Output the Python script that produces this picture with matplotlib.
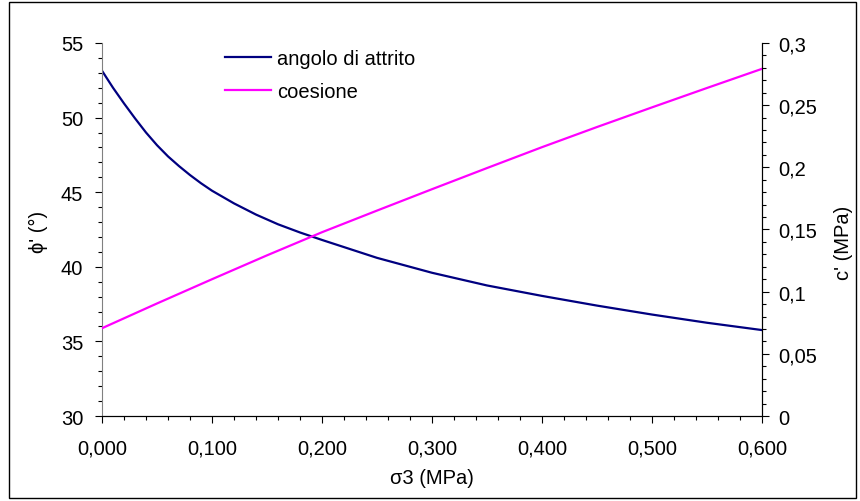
import matplotlib
matplotlib.use("Agg")
import matplotlib.pyplot as plt
from matplotlib.patches import Rectangle
from matplotlib.ticker import MultipleLocator, FuncFormatter

plt.rcParams['font.family'] = ['Liberation Sans', 'DejaVu Sans']

# friction angle curve
sigma3 = [0.0, 0.01, 0.02, 0.03, 0.04, 0.05, 0.06, 0.07, 0.08, 0.09, 0.1,
          0.12, 0.14, 0.16, 0.18, 0.2, 0.25, 0.3, 0.35, 0.4, 0.45, 0.5, 0.55, 0.6]
phi = [53.14, 52.0, 50.95, 49.95, 49.0, 48.15, 47.4, 46.75, 46.15, 45.6, 45.1,
       44.25, 43.5, 42.85, 42.3, 41.8, 40.6, 39.6, 38.75, 38.05, 37.4, 36.8, 36.25, 35.76]

# cohesion curve
sigma3_c = [0.0, 0.05, 0.1, 0.15, 0.2, 0.25, 0.3, 0.35, 0.4, 0.45, 0.5, 0.55, 0.6]
coes = [0.0706, 0.0905, 0.1100, 0.1292, 0.1478, 0.1652, 0.1824, 0.1994,
        0.2162, 0.2324, 0.2482, 0.2638, 0.2792]

FS = 14.5

def comma(fmt):
    return FuncFormatter(lambda v, p: fmt(v).replace('.', ','))

fig = plt.figure(figsize=(8.6, 5.02), dpi=100)
ax = fig.add_axes([0.1186, 0.1693, 0.7674, 0.7431])
ax2 = ax.twinx()

l1, = ax.plot(sigma3, phi, color='#000080', lw=1.6)
l2, = ax2.plot(sigma3_c, coes, color='#FF00FF', lw=1.6)

ax.set_xlim(0, 0.6)
ax.set_ylim(30, 55)
ax2.set_ylim(0, 0.3)

ax.xaxis.set_major_locator(MultipleLocator(0.1))
ax.xaxis.set_minor_locator(MultipleLocator(0.02))
ax.yaxis.set_major_locator(MultipleLocator(5))
ax.yaxis.set_minor_locator(MultipleLocator(1))
ax2.yaxis.set_major_locator(MultipleLocator(0.05))
ax2.yaxis.set_minor_locator(MultipleLocator(0.01))

ax.xaxis.set_major_formatter(comma(lambda v: f"{v:.3f}"))
ax.yaxis.set_major_formatter(comma(lambda v: f"{v:.0f}"))
ax2.yaxis.set_major_formatter(comma(lambda v: f"{v:.2f}".rstrip('0').rstrip('.') if v else "0"))

for a in (ax, ax2):
    a.spines['top'].set_visible(False)
    a.tick_params(which='major', length=5, width=0.8, labelsize=FS, direction='out')
    a.tick_params(which='minor', length=3, width=0.8, direction='out')
ax.tick_params(axis='x', which='major', pad=11)
ax.tick_params(axis='y', which='major', pad=8.5)
ax2.tick_params(axis='y', which='major', pad=7)
ax.spines['left'].set_color('#808080')
ax2.spines['left'].set_visible(False)

ax.set_xlabel("σ3 (MPa)", fontsize=FS)
ax.set_ylabel("ϕ' (°)", fontsize=FS)
ax2.set_ylabel("c' (MPa)", fontsize=FS)
ax.xaxis.set_label_coords(0.5, -0.1635)
ax.yaxis.set_label_coords(-0.097, 0.496)
ax2.yaxis.set_label_coords(1.123, 0.466)
ax.xaxis.label.set_va('center')
ax.yaxis.label.set_va('center')
ax2.yaxis.label.set_va('center')

leg = ax2.legend([l1, l2], ["angolo di attrito", "coesione"], loc='upper left',
                 bbox_to_anchor=(0.25, 0.921), bbox_transform=fig.transFigure,
                 frameon=False, fontsize=FS, handlelength=2.3, borderpad=0,
                 handletextpad=0.3, labelspacing=0.7)

fig.patches.append(Rectangle((0.0105, 0.006), 0.985, 0.988, transform=fig.transFigure,
                             fill=False, edgecolor='black', lw=1))

fig.savefig("out.png", dpi=100)
